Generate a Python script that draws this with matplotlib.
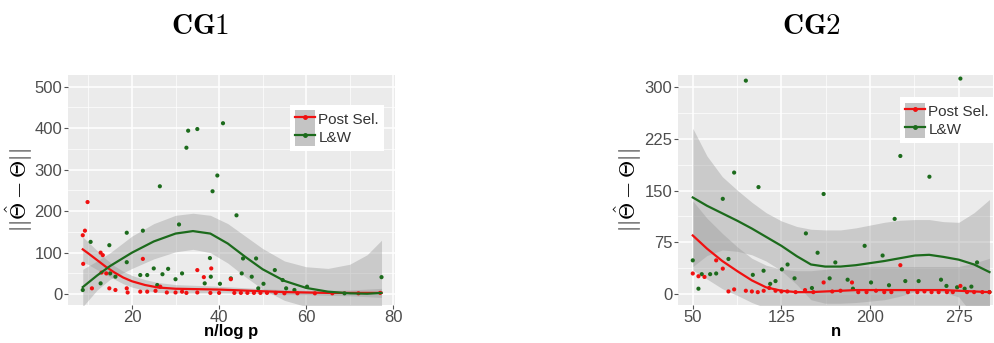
import numpy as np
import matplotlib.pyplot as plt
from matplotlib.patches import Patch
from matplotlib.lines import Line2D
from matplotlib.ticker import MultipleLocator

plt.rcParams['font.family'] = ['Liberation Sans', 'DejaVu Sans']
plt.rcParams['mathtext.fontset'] = 'cm'

RED = '#F01010'
GREEN = '#1C6B1C'

# ---- CG1 : error vs n/log p ----
gx1 = [8.7, 10.5, 12.8, 14.8, 15.0, 16.2, 18.8, 18.8, 21.9, 22.5, 23.5, 25.0, 25.8, 26.4, 27.0,
       28.3, 30.0, 30.8, 31.5, 32.5, 32.9, 35.0, 36.7, 37.9, 38.1, 38.5, 39.6, 40.2, 40.9, 42.7,
       44.0, 45.2, 45.5, 47.5, 48.5, 49.0, 50.2, 52.8, 54.6, 55.4, 57.3, 60.2, 68.8, 77.3]
gy1 = [10, 126, 26, 118, 50, 42, 148, 77, 46, 153, 46, 62, 22, 260, 48,
       61, 36, 168, 50, 353, 394, 398, 26, 87, 42, 248, 286, 25, 412, 38,
       190, 50, 86, 42, 86, 14, 25, 58, 34, 14, 10, 18, 2, 41]
rx1 = [8.7, 9.2, 9.8, 8.8, 10.8, 12.8, 13.3, 13.0, 14.1, 14.8, 16.2, 18.8, 19.0, 21.9, 22.5,
       23.5, 25.4, 26.5, 28.0, 30.0, 31.5, 32.5, 35.0, 35.0, 36.5, 38.2, 38.0, 40.0, 42.7, 43.5,
       45.0, 46.5, 48.0, 49.5, 51.0, 53.0, 55.0, 58.0, 62.0, 66.0, 72.0, 77.0]
ry1 = [142, 153, 222, 73, 14, 100, 94, 52, 50, 14, 10, 14, 4, 6, 85,
       6, 8, 18, 4, 4, 6, 3, 58, 4, 41, 62, 3, 3, 36, 3,
       3, 3, 3, 3, 3, 3, 2, 2, 2, 2, 2, 3]

# smoothed fits
gfx1 = [8.7, 12, 15, 20, 25, 30, 34, 38, 42, 46, 50, 55, 60, 65, 70, 74, 77.3]
gfy1 = [17, 45, 68, 100, 127, 146, 152, 146, 122, 90, 60, 32, 15, 6, 2, 1, 3]
gfu1 = [60, 80, 100, 140, 170, 190, 195, 190, 170, 140, 110, 80, 66, 62, 72, 95, 130]
gfl1 = [-30, 10, 36, 62, 85, 102, 108, 100, 75, 42, 12, -15, -30, -30, -30, -30, -30]
rfx1 = [8.7, 10, 12, 14, 16, 18, 20, 23, 26, 30, 35, 40, 45, 50, 55, 60, 65, 70, 77.3]
rfy1 = [108, 98, 82, 66, 52, 40, 31, 22, 16, 13, 12, 11, 9, 7, 5, 4, 3, 3, 3]
rfu1 = [138, 125, 105, 85, 68, 55, 45, 35, 28, 23, 21, 19, 16, 13, 11, 9, 9, 10, 14]
rfl1 = [78, 71, 59, 47, 36, 25, 17, 9, 4, 3, 3, 3, 2, 1, -1, -1, -3, -4, -8]

# ---- CG2 : error vs n ----
gx2 = [50, 54.8, 57.6, 64.7, 69.8, 75.4, 80.2, 85, 94.9, 100.8, 105.6, 109.9, 115.5, 120, 125.4,
       130.2, 136.1, 145.7, 150.8, 155.6, 160.7, 165.8, 170.6, 181, 185.5, 195.4, 200.8, 210.6,
       216, 220.8, 225.6, 229.8, 241.1, 250.2, 260, 264.6, 273.6, 276.4, 280, 285.7, 290.5, 301]
gy2 = [49, 8, 29, 29, 30, 138, 51, 176, 309, 28, 155, 34, 15, 19, 36,
       43, 23, 88, 9, 60, 145, 23, 46, 21, 8, 70, 17, 56,
       13, 109, 200, 19, 19, 170, 21, 12, 10, 312, 8, 11, 46, 3]
rx2 = [50, 54.8, 59.9, 69.8, 75.4, 80.2, 85, 94.9, 100, 105, 110, 114.7, 120, 125, 130,
       137, 145, 152, 160.7, 168, 175, 184.7, 190, 197, 205, 212, 218, 225.6, 232, 240,
       246, 252, 258, 265, 270, 276.4, 282, 288, 295, 301]
ry2 = [30, 26, 25, 49, 37, 4, 7, 5, 4, 3, 5, 9, 5, 4, 4,
       3, 6, 3, 17, 4, 5, 17, 3, 3, 5, 3, 3, 42, 3, 3,
       4, 3, 3, 3, 3, 12, 3, 3, 3, 3]

fx2 = [50, 62, 75, 88, 100, 112, 125, 138, 150, 162, 175, 188, 200, 212, 225, 238, 250, 262, 275, 288, 301]
gfy2 = [140, 128, 117, 106, 95, 83, 70, 55, 43, 40, 40, 42, 45, 48, 52, 56, 57, 54, 50, 43, 32]
gfu2 = [240, 200, 170, 150, 133, 118, 106, 98, 94, 93, 93, 96, 100, 104, 107, 108, 108, 105, 104, 118, 137]
gfl2 = [40, 56, 64, 62, 57, 48, 34, 14, -8, -13, -13, -12, -10, -8, -3, 4, 6, 3, -4, -32, -73]
rfy2 = [85, 66, 48, 33, 20, 10, 5, 3, 3, 4, 5, 6, 6, 6, 6, 6, 6, 6, 5, 4, 3]
rfu2 = [135, 110, 88, 68, 52, 42, 36, 34, 34, 36, 38, 40, 40, 40, 40, 40, 40, 40, 40, 45, 52]
rfl2 = [35, 22, 8, -2, -12, -20, -25, -28, -28, -28, -28, -28, -28, -28, -28, -28, -28, -28, -30, -37, -46]


def ggpanel(ax, xlim, ylim, xmaj, xoff, ymaj, xlabel):
    ax.set_facecolor('#EBEBEB')
    for s in ax.spines.values():
        s.set_visible(False)
    ax.set_xlim(*xlim)
    ax.set_ylim(*ylim)
    ax.xaxis.set_major_locator(MultipleLocator(xmaj, offset=xoff))
    ax.xaxis.set_minor_locator(MultipleLocator(xmaj / 2, offset=xoff))
    ax.yaxis.set_major_locator(MultipleLocator(ymaj))
    ax.yaxis.set_minor_locator(MultipleLocator(ymaj / 2))
    ax.grid(which='major', color='white', lw=1.1)
    ax.grid(which='minor', color='white', lw=0.5)
    ax.set_axisbelow(True)
    ax.tick_params(which='major', direction='out', length=3, width=0.8, color='#555555',
                   labelcolor='#4D4D4D', labelsize=12, pad=1)
    ax.tick_params(which='minor', length=0)
    ax.set_xlabel(xlabel, fontsize=12, fontweight='bold', labelpad=-1)
    ax.set_ylabel(r'$\mathbf{||\hat{\Theta}-\Theta||}$', fontsize=16, labelpad=0)


def draw(ax, gx, gy, rx, ry, gfx, gfy, gfu, gfl, rfx, rfy, rfu, rfl):
    ax.fill_between(gfx, gfl, gfu, color='#999999', alpha=0.4, lw=0)
    ax.fill_between(rfx, rfl, rfu, color='#999999', alpha=0.4, lw=0)
    ax.scatter(gx, gy, s=9, color=GREEN, edgecolors='none', zorder=3)
    ax.scatter(rx, ry, s=9, color=RED, edgecolors='none', zorder=3)
    ax.plot(rfx, rfy, color=RED, lw=1.6, zorder=4)
    ax.plot(gfx, gfy, color=GREEN, lw=1.6, zorder=4)


def legend(ax, anchor):
    key = Patch(facecolor='#C4C4C4', edgecolor='none')
    hr = (key, Line2D([], [], color=RED, lw=1.6, marker='o', ms=2.5))
    hg = (key, Line2D([], [], color=GREEN, lw=1.6, marker='o', ms=2.5))
    lg = ax.legend([hr, hg], ['Post Sel.', 'L&W'], loc='upper left', bbox_to_anchor=anchor,
                   frameon=True, fancybox=False, edgecolor='none', facecolor='white',
                   framealpha=1, fontsize=11, handlelength=1.3, handleheight=1.4,
                   handletextpad=0.2, labelspacing=0.0, borderpad=0.35, borderaxespad=0)
    for t in lg.get_texts():
        t.set_color('#333333')


fig = plt.figure(figsize=(9.95, 3.43), dpi=100)
ax1 = fig.add_axes([0.0683, 0.111, 0.3287, 0.670])
ax2 = fig.add_axes([0.6814, 0.111, 0.3166, 0.670])

ggpanel(ax1, (5.3, 80.4), (-26, 528), 20, 0, 100, 'n/log p')
draw(ax1, gx1, gy1, rx1, ry1, gfx1, gfy1, gfu1, gfl1, rfx1, rfy1, rfu1, rfl1)
legend(ax1, (0.679, 0.87))

ggpanel(ax2, (37.5, 304), (-15.5, 317), 75, 50, 75, 'n')
draw(ax2, gx2, gy2, rx2, ry2, fx2, gfy2, gfu2, gfl2, fx2, rfy2, rfu2, rfl2)
legend(ax2, (0.705, 0.904))

fig.text(0.201, 0.925, r'$\mathbf{CG1}$', fontsize=21, ha='center', va='center')
fig.text(0.816, 0.925, r'$\mathbf{CG2}$', fontsize=21, ha='center', va='center')

fig.savefig('out.png', dpi=100)
